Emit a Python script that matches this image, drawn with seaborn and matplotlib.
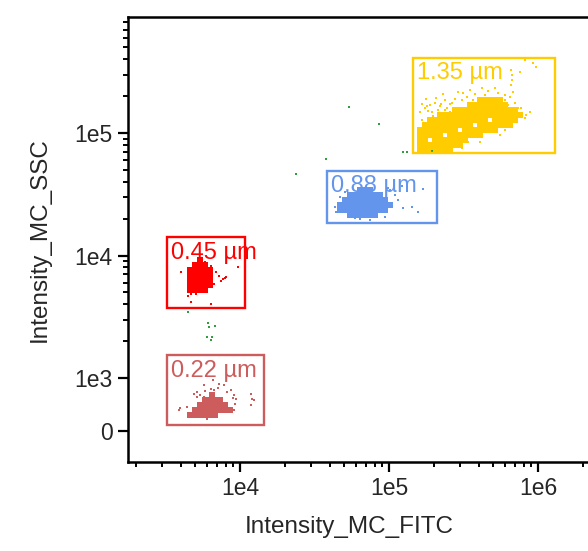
import matplotlib
matplotlib.use("Agg")
import matplotlib.pyplot as plt
import seaborn as sns
import pandas as pd
from matplotlib.patches import Rectangle
from matplotlib.ticker import FixedLocator, FixedFormatter, LogLocator, NullFormatter

sns.set_style("ticks")
plt.rcParams["font.family"] = ["Liberation Sans", "DejaVu Sans"]

# ---------------------------------------------------------------- data
# Dense cores: each y level carries the run of FITC values populated on it
red_core_y = [9180, 8360, 7620, 6930, 6310, 5740, 5220]
red_core_x = [[5390],
              [4990, 5390, 5820],
              [4610, 4990, 5390, 5820, 6300],
              [4610, 4990, 5390, 5820, 6300],
              [4610, 4990, 5390, 5820, 6300],
              [4610, 4990, 5390, 5820, 6300],
              [4610, 4990, 5390, 5820]]
red_fitc = [4020, 9700, 7230, 7690, 8050, 7450, 6700, 6390, 4690, 6390,
            4690, 5070, 6900, 6390, 7930, 4480, 5820, 5220]
red_ssc = [7330, 8060, 6810, 6430, 6680, 6190, 5850, 5530, 4170, 4020,
           4850, 4850, 7330, 8200, 6550, 4670, 8850, 9550]

pink_core_y = [679, 585, 491, 396, 302]
pink_core_x = [[6490],
               [5820, 6300, 6800, 7350],
               [5390, 5820, 6300, 6800, 7350, 7930],
               [4990, 5390, 5820, 6300, 6800, 7350, 7930, 8570],
               [4610, 4990, 5390, 5820, 6300, 6800]]
pink_fitc = [5730, 5140, 4910, 5140, 5730, 7820, 8190, 8710, 9120, 9400,
             9250, 11850, 12040, 11850, 3900, 4410, 9120, 6010, 6390, 7230,
             7570, 5390, 5820, 7110, 8980, 12420, 3950, 7010, 6700, 6590]
pink_ssc = [868, 736, 698, 642, 642, 868, 736, 774, 679, 604,
            509, 698, 604, 491, 396, 453, 396, 226, 793, 887,
            585, 679, 755, 811, 623, 585, 434, 302, 774, 962]

blue_core_y = [34300, 31200, 28400, 25800, 23500, 21400]
blue_core_x = [[63900, 69000, 74500],
               [54700, 59100, 63900, 69000, 74500, 80500, 87000],
               [50700, 54700, 59100, 63900, 69000, 74500, 80500, 87000, 94000],
               [46900, 50700, 54700, 59100, 63900, 69000, 74500, 80500, 87000,
                94000, 101600],
               [46900, 50700, 54700, 59100, 63900, 69000, 74500, 80500, 87000,
                94000],
               [54700, 59100, 63900, 69000, 74500, 80500]]
blue_fitc = [122200, 124100, 142600, 156500, 169200, 101600, 109700, 50700,
             46900, 59100, 74500, 94000, 63900, 114900, 87000, 98400, 43500,
             44100]
blue_ssc = [36900, 24400, 24900, 22700, 34900, 34300, 31200, 33000,
            30000, 20200, 19500, 20600, 19900, 28400, 32400, 35500, 24900,
            22700]

yellow_core_y = [72600, 79800, 87700, 96400, 105700, 116200, 127700, 140300,
                 154100, 169300, 185800]
yellow_core_x = [
    [161400, 174400, 188400, 203600, 220000, 237600, 256700],
    [161400, 174400, 188400, 203600, 220000, 237600, 256700, 277300, 299700],
    [161400, 174400, 203600, 220000, 237600, 256700, 277300, 299700, 323800],
    [161400, 174400, 188400, 203600, 220000, 256700, 277300, 299700, 323800,
     349800, 377900, 408300],
    [161400, 174400, 188400, 203600, 220000, 237600, 256700, 277300, 323800,
     349800, 377900, 408300, 441100, 476600, 514900],
    [174400, 188400, 203600, 220000, 237600, 256700, 277300, 299700, 323800,
     349800, 408300, 441100, 476600, 514900, 556300, 601000, 649300],
    [188400, 203600, 220000, 237600, 256700, 277300, 299700, 323800, 349800,
     377900, 408300, 441100, 514900, 556300, 601000, 649300, 701500],
    [220000, 237600, 256700, 277300, 299700, 323800, 349800, 377900, 408300,
     441100, 476600, 514900, 556300, 601000, 649300, 701500, 757900],
    [277300, 299700, 323800, 349800, 377900, 408300, 441100, 476600, 514900,
     556300, 601000, 649300, 701500],
    [349800, 377900, 408300, 441100, 476600, 514900, 556300, 601000],
    [408300, 441100, 476600, 514900, 556300]]
yellow_fitc = [174400, 188400, 203600, 220000, 237600, 256700, 277300, 290400,
               309000, 333400, 349800, 377900, 395500, 420700, 441100, 461300,
               491100, 514900, 539500, 573300, 601000, 629200, 669900, 701500,
               177000, 194500, 213300, 659800, 669900, 669900, 659800, 679300,
               818800, 924700, 970000, 757900, 769300, 818800, 884700, 601000,
               556300, 408300, 339000, 309000, 256700, 161400, 182800, 166300,
               237600, 256700, 349800, 476600, 514900, 556300, 601000, 649300,
               166300, 156500, 182800, 197300, 179800, 223300, 245000, 264700,
               206700, 230300, 314100, 366200, 427300, 734400, 830000]
yellow_ssc = [159900, 169300, 175800, 166000, 185800, 172600, 189700, 216200,
              185800, 196800, 224300, 208200, 185800, 232800, 204200, 220300,
              189700, 232800, 212300, 185800, 204200, 169300, 159900, 175800,
              189700, 148300, 154100, 326600, 297300, 270800, 246400, 216200,
              394700, 372700, 345700, 314700, 159900, 132400, 148300, 105700,
              96400, 84500, 84500, 75500, 72600, 148300, 132400, 172600,
              154100, 148300, 172600, 175800, 172600, 166000, 185800, 196800,
              127700, 109900, 151300, 137700, 166000, 172600, 159900, 175800,
              193200, 208200, 212300, 187400, 193200, 159900, 140300]

# Ungated events
other_fitc = [53900, 85700, 37800, 23800, 124100, 132100, 194500,
              4480, 6100, 6190, 6800, 6010, 6490, 6390]
other_ssc = [163000, 118300, 61400, 46300, 70000, 70000, 71300,
             3460, 2810, 2610, 2660, 2160, 2160, 2040]

# Gates: (FITC min, FITC max, SSC min, SSC max)
gate_names = ["0.22 µm", "0.45 µm", "0.88 µm", "1.35 µm"]
gate_fitc_lo = [3260, 3240, 38400, 146000]
gate_fitc_hi = [14500, 10810, 211600, 1300000]
gate_ssc_lo = [104, 3730, 18600, 69300]
gate_ssc_hi = [1530, 14160, 49400, 413000]
gate_colors = ["#CD5C5C", "#FF0000", "#6495ED", "#FFCC00"]

x_ticks = [1e4, 1e5, 1e6]
x_tick_labels = ["1e4", "1e5", "1e6"]
y_ticks = [0, 1e3, 1e4, 1e5]
y_tick_labels = ["0", "1e3", "1e4", "1e5"]


def expand(levels, runs):
    xs, ys = [], []
    for y, row in zip(levels, runs):
        xs.extend(row)
        ys.extend([y] * len(row))
    return xs, ys


# ---------------------------------------------------------------- figure
fig = plt.figure(figsize=(5.88, 5.51), dpi=100)
ax = fig.add_axes([0.2177, 0.1615, 0.7823, 0.8076])
ax.set_xscale("log")
ax.set_yscale("symlog", linthresh=1000, linscale=0.3894)

populations = [
    (pink_core_y, pink_core_x, pink_fitc, pink_ssc, gate_colors[0]),
    (red_core_y, red_core_x, red_fitc, red_ssc, gate_colors[1]),
    (blue_core_y, blue_core_x, blue_fitc, blue_ssc, gate_colors[2]),
    (yellow_core_y, yellow_core_x, yellow_fitc, yellow_ssc, gate_colors[3]),
]
for core_y, core_x, fx, fy, col in populations:
    cx, cy = expand(core_y, core_x)
    core = pd.DataFrame({"FITC": cx, "SSC": cy})
    sparse = pd.DataFrame({"FITC": fx, "SSC": fy})
    sns.scatterplot(data=core, x="FITC", y="SSC", color=col, marker="s",
                    s=16, linewidth=0, ax=ax, zorder=2)
    sns.scatterplot(data=sparse, x="FITC", y="SSC", color=col, marker="s",
                    s=4, linewidth=0, ax=ax, zorder=2)

sns.scatterplot(x=other_fitc, y=other_ssc, color="#2E9E3E", marker="s",
                s=3.5, linewidth=0, ax=ax, zorder=2)

for name, x0, x1, y0, y1, col in zip(gate_names, gate_fitc_lo, gate_fitc_hi,
                                     gate_ssc_lo, gate_ssc_hi, gate_colors):
    ax.add_patch(Rectangle((x0, y0), x1 - x0, y1 - y0, fill=False,
                           edgecolor=col, linewidth=1.7, zorder=3))
    ax.annotate(name, xy=(x0, y1), xytext=(2.5, -3.5),
                textcoords="offset points", ha="left", va="top",
                color=col, fontsize=17, zorder=4)

ax.set_xlim(1772, 2.166e6)
ax.set_ylim(-585, 885000)

ax.xaxis.set_major_locator(FixedLocator(x_ticks))
ax.xaxis.set_major_formatter(FixedFormatter(x_tick_labels))
ax.xaxis.set_minor_locator(LogLocator(base=10, subs=range(2, 10)))
ax.xaxis.set_minor_formatter(NullFormatter())

y_minor = [m * 10 ** e for e in (3, 4, 5) for m in range(2, 10)]
ax.yaxis.set_major_locator(FixedLocator(y_ticks))
ax.yaxis.set_major_formatter(FixedFormatter(y_tick_labels))
ax.yaxis.set_minor_locator(FixedLocator(y_minor))
ax.yaxis.set_minor_formatter(NullFormatter())

ax.tick_params(which="major", direction="out", length=7, width=1.6,
               labelsize=16.5, pad=4, color="black")
ax.tick_params(which="minor", direction="out", length=3.5, width=1.4,
               color="black")

ax.spines["right"].set_visible(False)
for side in ("left", "bottom", "top"):
    ax.spines[side].set_color("black")
    ax.spines[side].set_linewidth(1.8)

ax.set_xlabel("Intensity_MC_FITC", fontsize=17.5)
ax.set_ylabel("Intensity_MC_SSC", fontsize=17.5)
ax.xaxis.set_label_coords(0.480, -0.122)
ax.yaxis.set_label_coords(-0.168, 0.5)

fig.savefig("out.png", dpi=100)
